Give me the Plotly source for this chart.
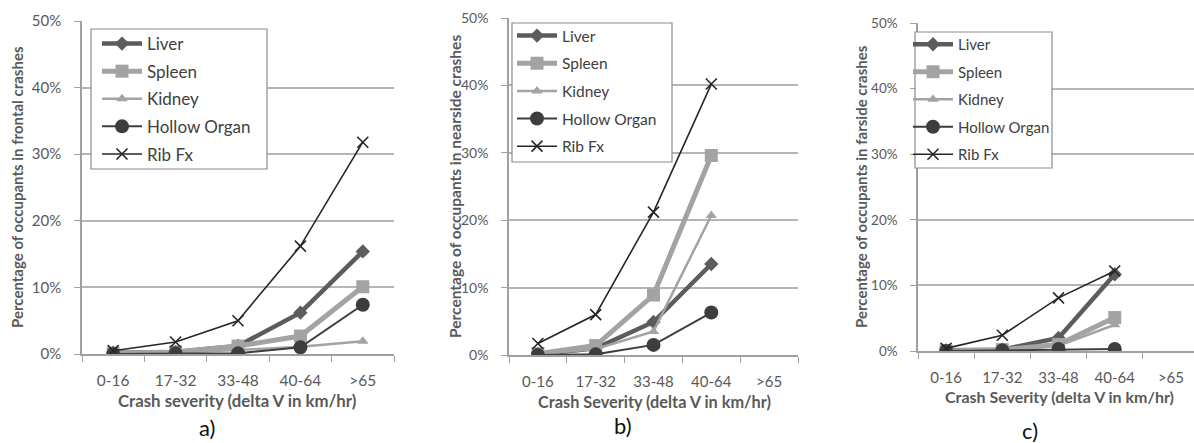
import plotly.graph_objects as go

W, H = 1194, 443

categories = ["0-16", "17-32", "33-48", "40-64", ">65"]
series_names = ["Liver", "Spleen", "Kidney", "Hollow Organ", "Rib Fx"]

# Frontal crashes (a)
liver_a = [0.2, 0.3, 1.2, 6.2, 15.4]
spleen_a = [0.1, 0.3, 1.2, 2.7, 10.1]
kidney_a = [0.1, 0.2, 0.6, 1.1, 1.9]
hollow_a = [0.0, 0.1, 0.1, 1.0, 7.4]
rib_a = [0.5, 1.8, 5.0, 16.2, 31.8]

# Nearside crashes (b)
liver_b = [0.1, 1.0, 4.9, 13.5, None]
spleen_b = [0.2, 1.4, 8.9, 29.6, None]
kidney_b = [0.1, 0.9, 3.5, 20.7, None]
hollow_b = [0.0, 0.1, 1.5, 6.3, None]
rib_b = [1.7, 6.0, 21.2, 40.2, None]

# Farside crashes (c)
liver_c = [0.1, 0.2, 2.0, 11.7, None]
spleen_c = [0.0, 0.2, 1.0, 5.1, None]
kidney_c = [0.0, 0.1, 0.8, 4.0, None]
hollow_c = [0.0, 0.1, 0.3, 0.3, None]
rib_c = [0.4, 2.4, 8.1, 12.2, None]

y_titles = ["Percentage of occupants in frontal crashes",
            "Percentage of occupants in nearside crashes",
            "Percentage of occupants in farside crashes"]
x_titles = ["Crash severity (delta V in km/hr)",
            "Crash Severity (delta V in km/hr)",
            "Crash Severity (delta V in km/hr)"]
panel_labels = ["a)", "b)", "c)"]

panels = [
    [liver_a, spleen_a, kidney_a, hollow_a, rib_a],
    [liver_b, spleen_b, kidney_b, hollow_b, rib_b],
    [liver_c, spleen_c, kidney_c, hollow_c, rib_c],
]

styles = [
    dict(line=dict(color="#5c5c5c", width=4.5), marker=dict(symbol="diamond", size=11, color="#5c5c5c")),
    dict(line=dict(color="#a3a3a3", width=5), marker=dict(symbol="square", size=13, color="#a3a3a3")),
    dict(line=dict(color="#a3a3a3", width=2.5), marker=dict(symbol="triangle-up", size=10, color="#a3a3a3")),
    dict(line=dict(color="#3d3d3d", width=2), marker=dict(symbol="circle", size=14, color="#3d3d3d")),
    dict(line=dict(color="#262626", width=1.6), marker=dict(symbol="x-thin-open", size=11,
                                                             line=dict(color="#262626", width=1.6))),
]

FONT = "Lato"

# pixel geometry of each panel: (x0, x1, y_zero_from_top, y_fifty_from_top, xrange_end)
geom = [
    (82, 394, 354, 21, 4.5),
    (509, 798, 355, 18, 4.5),
    (918, 1194, 351, 23, 4.41),
]
# legend entries: (x, y_top, font size, gap)
legend_pos = [(97, 26, 17, 2.5), (512, 19, 15.5, 4.5), (908, 28, 15, 5)]
# legend frame boxes: (x0, y0, x1, y1) from top-left
legend_box = [(91, 29, 267, 169), (512, 23, 672, 162), (915, 32, 1052, 168)]
ytitle_x = [17, 455, 861]
ytitle_size = [15, 15.5, 15]
ytick_size = [15, 14, 13.5]
xtick_y = [380, 381, 377]
xtick_size = [15.5, 15, 15]
xtitle_pos = [(237, 400, 16.8), (654, 401, 16.3), (1059, 396, 16)]
label_pos = [(207, 427), (623, 425), (1030, 430)]

fig = go.Figure()
layout = dict(width=W, height=H, margin=dict(l=0, r=0, t=0, b=0, pad=0, autoexpand=False),
              paper_bgcolor="white", plot_bgcolor="white",
              font=dict(family=FONT, color="#595959"), showlegend=True)
annotations = []
shapes = []

for p in range(3):
    sfx = "" if p == 0 else str(p + 1)
    x0, x1, yz, yf, xend = geom[p]
    for i, name in enumerate(series_names):
        st = styles[i]
        fig.add_trace(go.Scatter(
            x=categories, y=panels[p][i], name=name, mode="lines+markers",
            line=st["line"], marker=st["marker"],
            xaxis="x" + sfx, yaxis="y" + sfx,
            legend="legend" + sfx, legendgroup=f"{p}-{name}",
            connectgaps=False, hoverinfo="skip"))
    layout["xaxis" + sfx] = dict(
        domain=[x0 / W, min(x1 / W, 1.0)], anchor="y" + sfx, automargin=False,
        type="category", categoryorder="array", categoryarray=categories,
        range=[-0.5, xend], tickson="boundaries", ticks="outside", ticklen=6,
        tickcolor="#a0a0a0", showline=True, linecolor="#a0a0a0", linewidth=1.5,
        showgrid=False, zeroline=False,
        tickfont=dict(family=FONT, size=xtick_size[p], color="#595959"),
        ticklabelstandoff=xtick_y[p] - yz - 14,
    )
    layout["yaxis" + sfx] = dict(
        domain=[(H - yz) / H, (H - yf) / H], anchor="x" + sfx, automargin=False,
        range=[0, 50], dtick=10, ticksuffix="%", ticks="outside", ticklen=6,
        tickcolor="#a0a0a0", showline=True, linecolor="#a0a0a0", linewidth=1.5,
        showgrid=True, gridcolor="#b5b5b5", gridwidth=1.5, zeroline=False,
        tickfont=dict(family=FONT, size=ytick_size[p], color="#595959"),
        ticklabelstandoff=10,
    )
    lx, ly, lfs, gap = legend_pos[p]
    layout["legend" + sfx] = dict(
        x=lx / W, y=(H - ly) / H, xanchor="left", yanchor="top",
        bgcolor="rgba(0,0,0,0)", borderwidth=0,
        font=dict(family=FONT, size=lfs, color="#404040"),
        traceorder="grouped", tracegroupgap=gap, itemclick=False, itemwidth=40,
    )
    bx0, by0, bx1, by1 = legend_box[p]
    shapes.append(dict(
        type="rect", xref="paper", yref="paper", layer="above",
        x0=bx0 / W, x1=bx1 / W, y0=(H - by1) / H, y1=(H - by0) / H,
        fillcolor="white", line=dict(color="#8c8c8c", width=1.2)))
    annotations.append(dict(
        text=f"<b>{y_titles[p]}</b>", textangle=-90, x=ytitle_x[p] / W, y=(H - 187) / H,
        xref="paper", yref="paper", showarrow=False, xanchor="center", yanchor="middle",
        font=dict(family=FONT, size=ytitle_size[p], color="#595959")))
    tx, ty, ts = xtitle_pos[p]
    annotations.append(dict(
        text=f"<b>{x_titles[p]}</b>", x=tx / W, y=(H - ty) / H,
        xref="paper", yref="paper", showarrow=False, xanchor="center", yanchor="middle",
        font=dict(family=FONT, size=ts, color="#595959")))
    px, py = label_pos[p]
    annotations.append(dict(
        text=panel_labels[p], x=px / W, y=(H - py) / H,
        xref="paper", yref="paper", showarrow=False, xanchor="center", yanchor="middle",
        font=dict(family=FONT, size=22, color="#111111")))

layout["annotations"] = annotations
layout["shapes"] = shapes
fig.update_layout(**layout)
fig.write_html("out.html", config={"displayModeBar": False},
               post_script="document.body.style.margin='0';")
